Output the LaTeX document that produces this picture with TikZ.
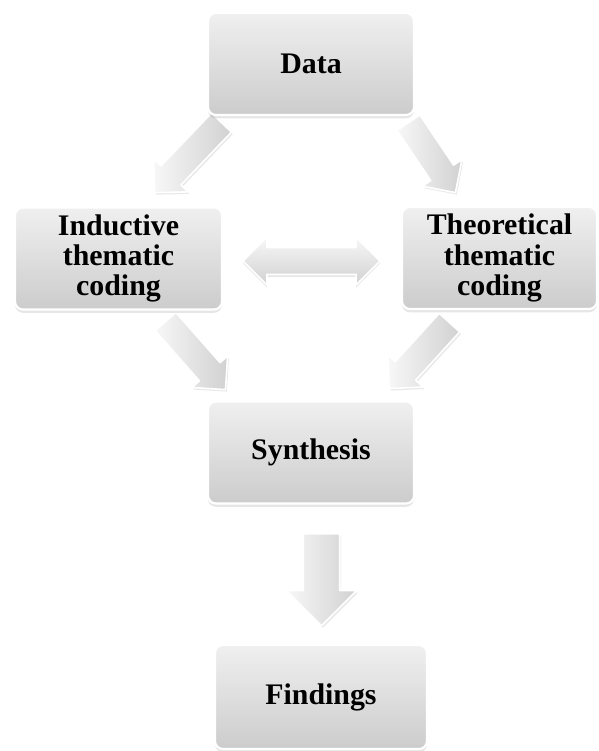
\documentclass[tikz,border=0pt]{standalone}
\usepackage{fontspec}
\setmainfont{Liberation Serif}
\usetikzlibrary{shapes.arrows,shadows}
\begin{document}
\begin{tikzpicture}[x=0.75pt,y=-0.75pt,font=\fontsize{22.4}{22.8}\selectfont\bfseries,line join=round,
	box/.style={rectangle,rounded corners=6pt,draw=white,line width=1.6pt,top color=gray!12,bottom color=gray!40,
		align=center,inner sep=0pt,minimum width=154.5pt,minimum height=76.5pt,
		drop shadow={shadow xshift=0pt,shadow yshift=-2.5pt,opacity=0.2}},
	barrow/.style={single arrow,anchor=tail,draw=white,line width=1.2pt,left color=gray!6,right color=gray!36,inner sep=0pt,
		inner ysep=9.75pt,single arrow head extend=7.5pt,
		drop shadow={shadow xshift=1pt,shadow yshift=-1.5pt,opacity=0.18}},
	darrow/.style={double arrow,draw=white,line width=1.2pt,top color=gray!6,bottom color=gray!36,inner sep=0pt,
		inner ysep=9.4pt,double arrow head extend=7.9pt,
		drop shadow={shadow xshift=0pt,shadow yshift=-2pt,opacity=0.18}}]
	\useasboundingbox (0,0) rectangle (599,751);
	\node[barrow,rotate=226.3,minimum height=72.7pt] (dtoi) at (222,122) {};
	\node[barrow,rotate=-56.1,minimum height=63.2pt] (dtot) at (408,122) {};
	\node[darrow,minimum height=102.75pt] (itot) at (311.5,261) {};
	\node[barrow,rotate=-48.6,minimum height=68pt] (itos) at (165,321) {};
	\node[barrow,rotate=227.7,minimum height=66.9pt] (ttos) at (450,322) {};
	\node[barrow,rotate=-90,minimum height=69pt,inner ysep=13.1pt,single arrow head extend=12.75pt] (stof) at (321.5,533) {};
	\node[box] (data) at (311,64) {Data};
	\node[box,minimum width=155.25pt] (ind) at (118.5,258.5) {Inductive\\thematic\\coding};
	\node[box,minimum width=146.25pt] (theo) at (499.5,258) {Theoretical\\thematic\\coding};
	\node[box] (syn) at (311,452.5) {Synthesis};
	\node[box,minimum width=159pt,minimum height=78pt] (find) at (321,697) {Findings};
\end{tikzpicture}
\end{document}
